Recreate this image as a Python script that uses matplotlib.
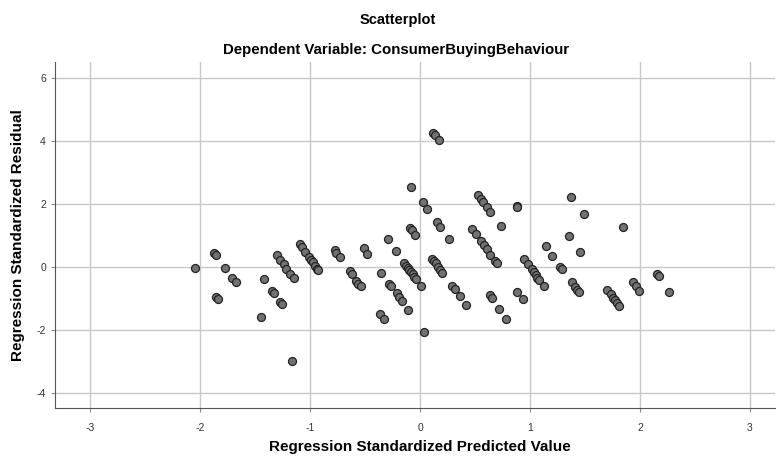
import matplotlib
matplotlib.use('Agg')
from matplotlib import pyplot as plt

# predicted (x) and residual (y) values
predicted = [
    -2.05, -1.87, -1.855, -1.77, -1.71, -1.675, -1.857, -1.839, -1.42, -1.45,
    -1.35, -1.33, -1.27, -1.255,
    -1.303, -1.27, -1.239, -1.215, -1.18, -1.148, -1.16,
    -1.088, -1.07, -1.045, -1.009, -0.988, -0.975, -0.952, -0.936, -0.924,
    -0.776, -0.76, -0.73,
    0.121, 0.139, 0.17, -0.085, 0.024, 0.067,
    0.53, 0.552, 0.576, 0.606, 0.639, 0.733,
    0.152, 0.185, -0.091, -0.07, -0.043, 0.264, -0.29, -0.215,
    0.476, 0.506, 0.552, 0.582, 0.606, 0.639, 0.682, 0.697,
    -0.509, -0.479, -0.636, -0.621, -0.579, -0.561, -0.539, -0.352,
    -0.279, -0.264, -0.212, -0.194, -0.167, -0.109, -0.36, -0.33,
    -0.145, -0.127, -0.112, -0.097, -0.082, -0.066, -0.052, -0.036,
    0.009, 0.039,
    0.112, 0.13, 0.145, 0.164, 0.182, 0.203,
    0.294, 0.315, 0.36, 0.418, 0.633, 0.652, 0.721, 0.782,
    0.879, 0.885, 1.376, 1.488, 1.352, 1.848, 1.143, 1.2, 1.457,
    0.945, 0.979, 1.015, 1.034, 1.052, 1.064, 1.082, 1.13,
    1.276, 1.294, 1.379, 1.409, 1.43, 1.443, 0.885, 0.933,
    1.703, 1.733, 1.752, 1.77, 1.79, 1.809,
    1.933, 1.961, 1.99, 2.158, 2.176, 2.264,
]
residual = [
    -0.02, 0.45, 0.40, -0.03, -0.33, -0.47, -0.95, -1.02, -0.38, -1.57,
    -0.74, -0.82, -1.10, -1.17,
    0.40, 0.22, 0.09, -0.05, -0.20, -0.35, -2.97,
    0.72, 0.655, 0.475, 0.32, 0.24, 0.18, 0.05, -0.05, -0.10,
    0.53, 0.46, 0.33,
    4.25, 4.18, 4.02, 2.55, 2.05, 1.83,
    2.29, 2.17, 2.07, 1.91, 1.76, 1.29,
    1.42, 1.27, 1.24, 1.17, 1.01, 0.89, 0.89, 0.52,
    1.20, 1.04, 0.83, 0.70, 0.57, 0.40, 0.21, 0.12,
    0.60, 0.43, -0.13, -0.20, -0.43, -0.52, -0.59, -0.19,
    -0.53, -0.59, -0.83, -0.94, -1.08, -1.35, -1.48, -1.65,
    0.14, 0.05, -0.02, -0.09, -0.16, -0.23, -0.31, -0.38,
    -0.58, -2.05,
    0.25, 0.21, 0.12, 0.01, -0.09, -0.19,
    -0.59, -0.69, -0.92, -1.20, -0.89, -0.97, -1.33, -1.63,
    1.95, 1.91, 2.22, 1.69, 0.99, 1.27, 0.66, 0.37, 0.47,
    0.26, 0.10, -0.07, -0.16, -0.25, -0.33, -0.41, -0.61,
    0.01, -0.07, -0.48, -0.62, -0.73, -0.80, -0.79, -1.00,
    -0.71, -0.85, -0.96, -1.05, -1.15, -1.22,
    -0.47, -0.60, -0.75, -0.20, -0.28, -0.79,
]
x_ticks = [-3, -2, -1, 0, 1, 2, 3]
y_ticks = [-4, -2, 0, 2, 4, 6]

plt.rcParams['font.family'] = ['Liberation Sans', 'DejaVu Sans']
plt.rcParams['axes.unicode_minus'] = False

fig = plt.figure(figsize=(7.76, 4.58), dpi=100)
ax = fig.add_axes([0.0709, 0.1092, 0.928, 0.7554])

ax.scatter(predicted, residual, s=33, facecolor='#727272', edgecolor='#222222',
           linewidth=0.9, zorder=3)

ax.set_xlim(-3.32, 3.23)
ax.set_ylim(-4.46, 6.5)
ax.set_xticks(x_ticks)
ax.set_yticks(y_ticks)
ax.grid(True, color='#c8c8c8', linewidth=1)
ax.set_axisbelow(True)
for side in ['top', 'right']:
    ax.spines[side].set_visible(False)
for side in ['left', 'bottom']:
    ax.spines[side].set_color('#555555')
ax.tick_params(labelsize=7.5, length=3, color='#888888', labelcolor='#333333')
ax.tick_params(axis='x', pad=8)

# axis titles placed in figure coordinates to match the reference
fig.text(420 / 776, 1 - 447 / 458, 'Regression Standardized Predicted Value',
         ha='center', va='center', fontsize=11, fontweight='bold')
fig.text(18 / 776, 1 - 235 / 458, 'Regression Standardized Residual',
         ha='center', va='center', rotation=90, fontsize=11, fontweight='bold')

fig.text(398 / 776, 1 - 20 / 458, 'Scatterplot', ha='center', va='center',
         fontsize=10.5, fontweight='bold')
fig.text(396 / 776, 1 - 50 / 458, 'Dependent Variable: ConsumerBuyingBehaviour',
         ha='center', va='center', fontsize=10.8, fontweight='bold')

fig.savefig('out.png', dpi=100)
